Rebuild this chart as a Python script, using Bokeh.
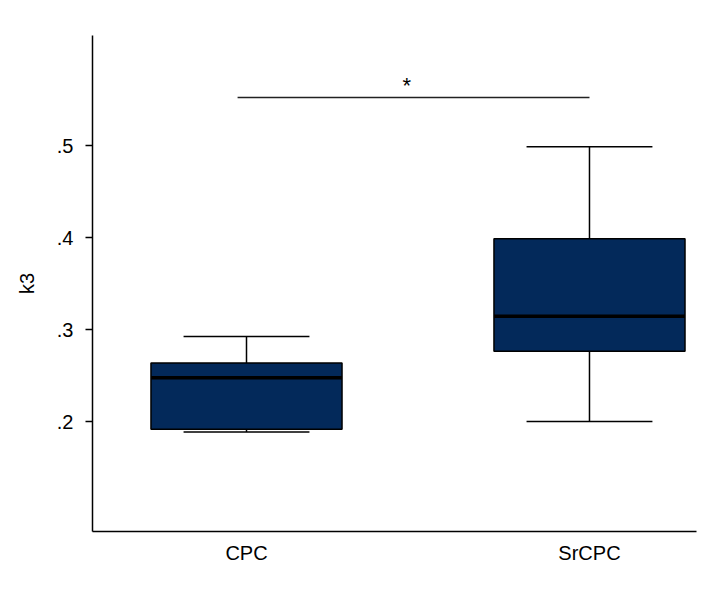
from bokeh.plotting import figure
from bokeh.models import ColumnDataSource, Range1d, FixedTicker
from bokeh.core.properties import value
from bokeh.embed import file_html
from bokeh.resources import INLINE

# ---- data ----
categories = ["CPC", "SrCPC"]
positions = [1, 2]
whisker_low = [0.189, 0.2005]
q1 = [0.192, 0.277]
median = [0.248, 0.315]
q3 = [0.264, 0.399]
whisker_high = [0.293, 0.499]

y_ticks = [0.2, 0.3, 0.4, 0.5]
y_tick_labels = [".2", ".3", ".4", ".5"]

sig_x = [0.974, 2.0]
sig_y = 0.5525
sig_label = "*"

FONT = "Liberation Sans"
BOX_COLOR = "#03295a"
box_w = 0.557
cap_w = 0.367

src = ColumnDataSource(dict(
    x=positions,
    lo=whisker_low, q1=q1, med=median, q3=q3, hi=whisker_high,
    bl=[p - box_w / 2 for p in positions],
    br=[p + box_w / 2 for p in positions],
    cl=[p - cap_w / 2 for p in positions],
    cr=[p + cap_w / 2 for p in positions],
))

p = figure(width=712, height=588, output_backend="svg", toolbar_location=None,
           x_range=Range1d(0.551, 2.312), y_range=Range1d(0.081, 0.620),
           min_border_left=92, min_border_right=16, min_border_top=35,
           min_border_bottom=57)
p.outline_line_color = None
p.grid.visible = False
p.background_fill_color = "white"
p.border_fill_color = "white"

# whiskers
p.segment(x0="x", y0="q3", x1="x", y1="hi", source=src, line_color="black", line_width=1.5)
p.segment(x0="x", y0="lo", x1="x", y1="q1", source=src, line_color="black", line_width=1.5)
p.segment(x0="cl", y0="hi", x1="cr", y1="hi", source=src, line_color="black", line_width=1.5)
p.segment(x0="cl", y0="lo", x1="cr", y1="lo", source=src, line_color="black", line_width=1.5)
# boxes
p.vbar(x="x", width=box_w, bottom="q1", top="q3", source=src,
       fill_color=BOX_COLOR, line_color="black", line_width=1.5)
# medians
p.segment(x0="bl", y0="med", x1="br", y1="med", source=src, line_color="black", line_width=3.5)

# significance bar
p.line(x=sig_x, y=[sig_y, sig_y], line_color="#222222", line_width=1.5)
p.text(x=[sum(sig_x) / 2 - 0.02], y=[sig_y + 0.0], text=[sig_label],
       text_font=value(FONT), text_font_size="22px", text_align="center",
       text_baseline="bottom", text_color="black")

# axes
p.yaxis.ticker = FixedTicker(ticks=y_ticks)
p.yaxis.major_label_overrides = {t: l for t, l in zip(y_ticks, y_tick_labels)}
p.yaxis.major_label_orientation = 0
p.yaxis.axis_label = "k3"
p.yaxis.axis_label_text_font = FONT
p.yaxis.axis_label_text_font_size = "20px"
p.yaxis.axis_label_text_font_style = "normal"
p.yaxis.axis_label_standoff = 16
p.yaxis.major_tick_out = 7
p.yaxis.major_tick_in = 0
p.yaxis.minor_tick_line_color = None
p.yaxis.major_label_standoff = 12

p.xaxis.ticker = FixedTicker(ticks=positions)
p.xaxis.major_label_overrides = {pos: c for pos, c in zip(positions, categories)}
p.xaxis.major_tick_line_color = None
p.xaxis.minor_tick_line_color = None
p.xaxis.major_label_standoff = 4

for ax in (p.xaxis[0], p.yaxis[0]):
    ax.axis_line_width = 1.5
    ax.axis_line_color = "black"
    ax.major_tick_line_width = 1.5
    ax.major_label_text_font = FONT
    ax.major_label_text_font_size = "20px"
    ax.major_label_text_color = "black"
    ax.axis_label_text_color = "black"

open("out.html", "w").write(file_html(p, INLINE))
